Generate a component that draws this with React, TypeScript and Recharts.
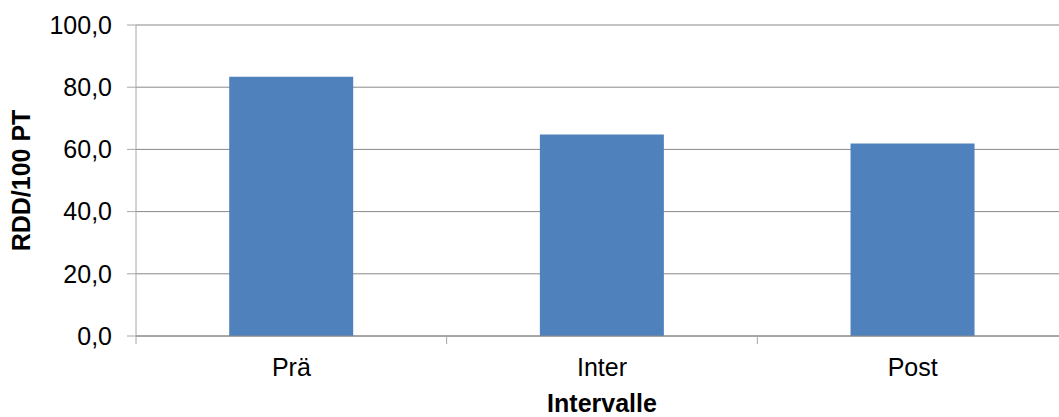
import { BarChart, Bar, XAxis, YAxis, CartesianGrid } from 'recharts';

const intervals = ['Prä', 'Inter', 'Post'];
const rddPer100 = [83.4, 64.8, 61.9];
const yTicks = [0, 20, 40, 60, 80, 100];

const data = intervals.map((name, i) => ({ name, value: rddPer100[i] }));

const CHART_W = 1080;
const CHART_H = 417;
const MARGIN = { top: 25, right: 12, bottom: 0, left: 0 };
const Y_AXIS_W = 136;
const X_AXIS_H = 81;
const TICK_MARGIN = 22;
const BAND = (CHART_W - MARGIN.left - MARGIN.right - Y_AXIS_W) / intervals.length;

const FONT = '"Liberation Sans", Arial, sans-serif';
const AXIS_GRAY = '#a6a6a6';

const fmt = (v: number) => v.toFixed(1).replace('.', ',');

// category label plus the short tick marks that sit on the band boundaries
function CategoryTick(props: any) {
  const { x, y, payload, index } = props;
  const axisY = y - TICK_MARGIN;
  const isLast = index === intervals.length - 1;
  return (
    <g>
      <line x1={x - BAND / 2} x2={x - BAND / 2} y1={axisY} y2={axisY + 8} stroke={AXIS_GRAY} />
      {isLast && (
        <line x1={x + BAND / 2} x2={x + BAND / 2} y1={axisY} y2={axisY + 8} stroke={AXIS_GRAY} />
      )}
      <text x={x} y={y} dy="0.71em" textAnchor="middle" fontSize={25} fill="#000" fontFamily={FONT}>
        {payload.value}
      </text>
    </g>
  );
}

function YTitle(props: any) {
  const { viewBox } = props;
  const cx = 21;
  const cy = viewBox.y + viewBox.height / 2;
  return (
    <text
      x={cx}
      y={cy}
      transform={`rotate(-90 ${cx} ${cy})`}
      textAnchor="middle"
      dominantBaseline="central"
      fontSize={25}
      fontWeight="bold"
      fill="#000"
      fontFamily={FONT}
    >
      RDD/100 PT
    </text>
  );
}

export default function App() {
  return (
    <div style={{ position: 'fixed', left: 0, top: 0, width: 1059, height: 417, overflow: 'hidden', background: '#fff' }}>
      <BarChart width={CHART_W} height={CHART_H} data={data} margin={MARGIN} barCategoryGap="30%">
        <CartesianGrid vertical={false} stroke="#888888" />
        <XAxis
          dataKey="name"
          height={X_AXIS_H}
          axisLine={{ stroke: '#888888' }}
          tickLine={false}
          tickSize={0}
          tickMargin={TICK_MARGIN}
          tick={<CategoryTick />}
          interval={0}
          label={{
            value: 'Intervalle',
            position: 'insideBottom',
            offset: 5,
            fontSize: 25,
            fontWeight: 'bold',
            fill: '#000',
            fontFamily: FONT,
          }}
        />
        <YAxis
          width={Y_AXIS_W}
          domain={[0, 100]}
          ticks={yTicks}
          tickFormatter={fmt}
          axisLine={{ stroke: AXIS_GRAY }}
          tickLine={{ stroke: AXIS_GRAY }}
          tickSize={9}
          tickMargin={15}
          tick={{ fontSize: 25, fill: '#000', fontFamily: FONT }}
          label={<YTitle />}
        />
        <Bar dataKey="value" fill="#4F81BD" isAnimationActive={false} />
      </BarChart>
    </div>
  );
}
